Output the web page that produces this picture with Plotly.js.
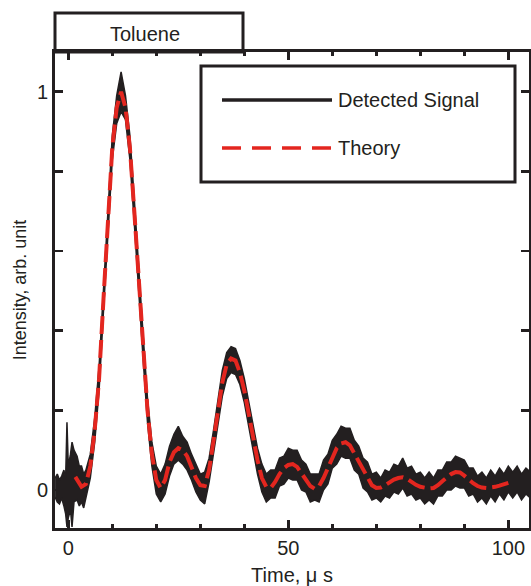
<!DOCTYPE html>
<html><head><meta charset="utf-8">
<script src="https://cdn.plot.ly/plotly-3.0.1.min.js"></script>
<style>html,body{margin:0;padding:0;background:#fff}#chart{width:531px;height:586px}</style>
</head><body><div id="chart"></div>
<script>
// ---- data ----
const panelLabel = 'Toluene';
const seriesNames = ['Detected Signal', 'Theory'];
const xTitle = 'Time, \u03bc s';
const yTitle = 'Intensity, arb. unit';

const theoryTime = [1.6,2,3,4,5,6,7,8,9,10,11,12,13,14,15,16,17,18,19,20,
  21,22,23,24,25,26,27,28,29,30,31,32,33,34,35,36,37,38,39,40,
  41,42,43,44,45,46,47,48,49,50,51,52,53,54,55,56,57,58,59,60,
  61,62,63,64,65,66,67,68,69,70,71,72,73,74,75,76,77,78,79,80,
  81,82,83,84,85,86,87,88,89,90,91,92,93,94,95,96,97,98,99,100];
const theoryValue = [0.033,0.025,0.008,0.015,0.06,0.15,0.28,0.48,0.68,0.86,0.96,1.00,0.96,0.86,0.70,0.52,0.36,0.20,0.09,0.025,
  0.005,0.025,0.07,0.095,0.105,0.10,0.085,0.06,0.03,0.012,0.01,0.05,0.12,0.20,0.27,0.315,0.33,0.325,0.295,0.25,
  0.19,0.13,0.075,0.03,0.008,0.005,0.02,0.04,0.055,0.063,0.065,0.058,0.043,0.025,0.01,0.003,0.01,0.03,0.055,0.085,
  0.105,0.117,0.12,0.112,0.092,0.072,0.048,0.027,0.012,0.005,0.006,0.012,0.02,0.026,0.03,0.032,0.028,0.02,0.013,0.008,
  0.005,0.004,0.005,0.012,0.022,0.032,0.04,0.045,0.044,0.036,0.026,0.017,0.01,0.006,0.005,0.006,0.008,0.011,0.015,0.018];

const signalTime = [-3,-2.5,-2,-1.5,-1,-0.6,-0.3,0,0.5,0.85,1.3,2,2.5,3,3.5,4,
  5,6,7,8,9,10,11,12,13,14,15,16,17,18,19,20,
  21,22,23,24,25,26,27,28,29,30,31,32,33,34,35,36,37,38,39,40,
  41,42,43,44,45,46,47,48,49,50,51,52,53,54,55,56,57,58,59,60,
  61,62,63,64,65,66,67,68,69,70,71,72,73,74,75,76,77,78,79,80,
  81,82,83,84,85,86,87,88,89,90,91,92,93,94,95,96,97,98,99,100,
  101,102,103,104,105];
const signalHigh = [0.03,0.04,0.025,0.035,0.05,0.03,0.17,0.06,0.09,0.12,0.10,0.085,0.06,0.06,0.04,0.05,
  0.09,0.18,0.31,0.51,0.71,0.89,0.99,1.05,0.99,0.89,
  0.73,0.55,0.39,0.23,0.12,0.06,0.04,0.065,0.11,0.14,
  0.16,0.135,0.12,0.09,0.065,0.04,0.045,0.08,0.15,0.23,
  0.30,0.345,0.36,0.355,0.325,0.28,0.22,0.16,0.105,0.065,
  0.04,0.05,0.05,0.08,0.085,0.105,0.10,0.10,0.075,0.065,
  0.04,0.04,0.04,0.075,0.09,0.125,0.14,0.16,0.155,0.155,
  0.125,0.11,0.08,0.07,0.04,0.045,0.03,0.05,0.045,0.065,
  0.06,0.08,0.055,0.06,0.04,0.045,0.03,0.045,0.03,0.05,
  0.05,0.07,0.07,0.085,0.08,0.075,0.055,0.055,0.035,0.045,
  0.03,0.05,0.035,0.055,0.04,0.06,0.045,0.06,0.04,0.055,
  0.045];
const signalLow = [-0.018,-0.03,-0.035,-0.02,-0.04,-0.06,-0.093,-0.07,-0.05,-0.093,-0.03,-0.025,-0.04,-0.03,-0.045,-0.02,
  0.03,0.12,0.25,0.45,0.65,0.83,0.92,0.95,0.93,0.83,
  0.67,0.49,0.33,0.17,0.06,-0.01,-0.03,-0.01,0.035,0.065,
  0.075,0.065,0.05,0.025,-0.005,-0.025,-0.035,0.02,0.09,0.17,
  0.235,0.28,0.295,0.29,0.265,0.22,0.16,0.10,0.04,-0.005,
  -0.03,-0.02,-0.02,0.01,0.015,0.03,0.025,0.025,0.0,-0.005,
  -0.03,-0.025,-0.03,0.0,0.015,0.055,0.065,0.085,0.08,0.08,
  0.05,0.04,0.005,-0.005,-0.025,-0.02,-0.03,-0.015,-0.02,-0.005,
  -0.01,0.005,-0.015,-0.01,-0.025,-0.02,-0.035,-0.025,-0.035,-0.015,
  -0.015,0.0,0.0,0.01,0.005,0.005,-0.015,-0.01,-0.03,-0.02,
  -0.035,-0.015,-0.03,-0.01,-0.025,-0.005,-0.02,-0.005,-0.025,-0.01,
  -0.02];

// ---- styling ----
const ink = '#231f20';
const red = '#e3261f';
const font = 'Liberation Sans, Arial, Helvetica, sans-serif';

const traces = [
  {x: signalTime, y: signalLow, mode: 'lines', line: {color: ink, width: 1.5}, hoverinfo: 'skip', showlegend: false},
  {x: signalTime, y: signalHigh, mode: 'lines', fill: 'tonexty', fillcolor: ink, line: {color: ink, width: 1.5}, name: seriesNames[0], showlegend: false},
  {x: theoryTime, y: theoryValue, mode: 'lines', line: {color: red, width: 4, dash: '18px,6px'}, name: seriesNames[1], showlegend: false}
];

const plotW = 474, plotH = 476;
const px = v => (v - 55) / plotW;       // pixel x -> paper
const py = v => (528 - v) / plotH;      // pixel y -> paper

const layout = {
  width: 531, height: 586,
  margin: {l: 55, r: 2, t: 52, b: 58},
  paper_bgcolor: '#fff', plot_bgcolor: '#fff',
  font: {family: font, color: ink, size: 20},
  showlegend: false,
  xaxis: {
    range: [-3.02, 104.7], tickmode: 'linear', tick0: 0, dtick: 50,
    ticks: 'inside', ticklen: 8, tickwidth: 2.5, tickcolor: ink,
    minor: {dtick: 10, tick0: 0, ticks: 'inside', ticklen: 4, tickwidth: 2.5, tickcolor: ink, showgrid: false},
    showline: true, linewidth: 3, linecolor: ink, mirror: 'allticks',
    showgrid: false, zeroline: false,
    tickfont: {size: 20, color: ink, family: font},
    title: {text: xTitle, font: {size: 20, color: ink, family: font}, standoff: 10}
  },
  yaxis: {
    range: [-0.0954, 1.0997], tickmode: 'linear', tick0: 0, dtick: 1,
    ticks: 'inside', ticklen: 8, tickwidth: 2.5, tickcolor: ink,
    minor: {dtick: 0.2, tick0: 0, ticks: 'inside', ticklen: 8, tickwidth: 2.5, tickcolor: ink, showgrid: false},
    showline: true, linewidth: 3, linecolor: ink, mirror: 'allticks',
    showgrid: false, zeroline: false,
    tickfont: {size: 20, color: ink, family: font},
    title: {text: yTitle, font: {size: 18, color: ink, family: font}, standoff: 6}
  },
  shapes: [
    {type: 'rect', xref: 'paper', yref: 'paper', x0: px(55), x1: px(243), y0: 1.0, y1: py(13), line: {color: ink, width: 3}},
    {type: 'rect', xref: 'paper', yref: 'paper', x0: px(201), x1: px(515), y0: py(182), y1: py(66), line: {color: ink, width: 3}, fillcolor: '#fff'},
    {type: 'line', xref: 'paper', yref: 'paper', x0: px(222), x1: px(332), y0: py(100), y1: py(100), line: {color: ink, width: 3.5}},
    {type: 'line', xref: 'paper', yref: 'paper', x0: px(222), x1: px(332), y0: py(148), y1: py(148), line: {color: red, width: 3.5, dash: '19px,11px'}}
  ],
  annotations: [
    {text: panelLabel, xref: 'paper', yref: 'paper', x: px(145), y: py(34), xanchor: 'center', yanchor: 'middle', showarrow: false, font: {size: 20, color: ink, family: font}},
    {text: seriesNames[0], xref: 'paper', yref: 'paper', x: px(336), y: py(100), xanchor: 'left', yanchor: 'middle', showarrow: false, font: {size: 20, color: ink, family: font}},
    {text: seriesNames[1], xref: 'paper', yref: 'paper', x: px(336), y: py(148), xanchor: 'left', yanchor: 'middle', showarrow: false, font: {size: 20, color: ink, family: font}}
  ]
};

Plotly.newPlot('chart', traces, layout, {staticPlot: true, displayModeBar: false});
</script>
</body></html>
